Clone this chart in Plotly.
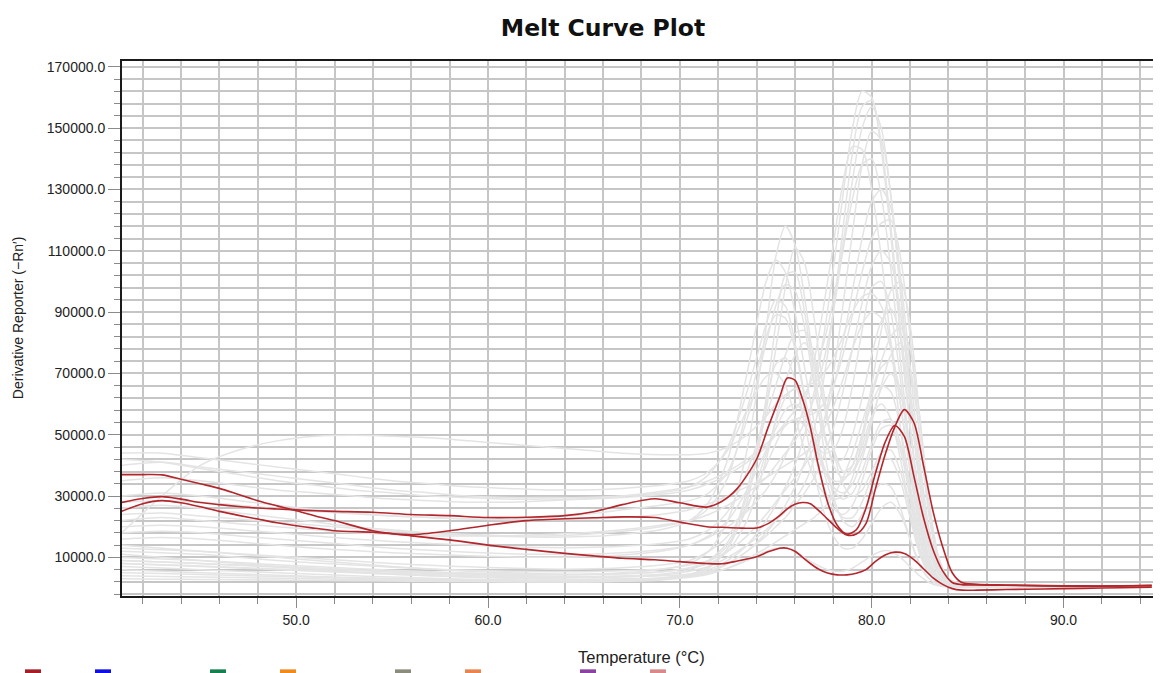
import plotly.graph_objects as go

# ---------------- data ----------------
temp_red = [40.9, 42, 43, 44, 45, 46, 47, 48, 49, 50, 51, 52, 54, 56, 58, 60, 62, 64, 65.5, 67,
            68.7, 70, 71.4, 72.2, 73, 74, 74.6, 75.2, 75.6, 76, 76.4, 76.8, 77.2, 77.7, 78.2, 78.7,
            79.2, 79.7, 80.2, 80.7, 81.2, 81.7, 82.2, 82.7, 83.2, 83.7, 84.2, 84.7, 85.5, 87, 89, 91, 93, 94.6]

red_a = [27900, 29200, 29800, 29000, 27900, 27200, 26600, 26100, 25800, 25500, 25200, 25000, 24700, 24000,
         23600, 23000, 23100, 23600, 24900, 27200, 29100, 27800, 26400, 28300, 32500, 42000, 52400, 62200,
         68500, 67800, 61500, 52500, 40500, 28000, 20500, 17600, 19000, 26000, 37500, 47500, 53000, 49500,
         36500, 23000, 12500, 5600, 1800, 1100, 1000, 900, 700, 600, 700, 800]

red_b = [25000, 27500, 28500, 27800, 26500, 25000, 23700, 22500, 21300, 20300, 19500, 18700, 18200, 17400,
         18700, 20500, 22000, 22600, 22900, 23200, 23000, 21500, 20000, 19800, 19600, 19600, 21000, 23600,
         25800, 27300, 27900, 27500, 25500, 22500, 19500, 17300, 17600, 21000, 32500, 43500, 52500, 58200,
         54000, 40000, 25000, 13500, 5000, 1800, 1200, 1000, 800, 700, 700, 900]

red_c = [37000, 37000, 36900, 35500, 34000, 32500, 30500, 28500, 26800, 25200, 23500, 22000, 18700, 17000,
         15700, 14000, 12600, 11300, 10500, 9700, 9200, 8600, 8000, 7900, 8800, 10200, 11800, 13000, 13000,
         12000, 10000, 8000, 6300, 4900, 4300, 4300, 4800, 6000, 8700, 10800, 11700, 11300, 9300, 6300, 3300,
         1200, -200, -700, -700, -500, -300, -100, 100, 300]

temp_gray = [40.9, 43, 45, 47, 49, 51, 53, 55, 57, 59, 61, 63, 65, 67, 69, 70.5, 71.5, 72.5, 73.5, 74.5, 75,
             75.5, 76, 76.5, 77, 77.5, 78, 78.5, 79, 79.5, 80, 80.5, 81, 81.5, 82, 82.5, 83, 83.5, 84, 85, 87,
             90, 94.6]

gray_01 = [11000, 10000, 9000, 8000, 7000, 6000, 5200, 4500, 4000, 3500, 3200, 3000, 2900, 3000, 3300, 4500,
           6000, 9000, 14000, 22000, 27000, 33000, 40000, 50000, 64000, 82000, 104000, 128000, 150000, 162000,
           160000, 143000, 115000, 82000, 52000, 28000, 12000, 4500, 1800, 700, 400, 300, 600]
gray_02 = [42000, 41000, 39000, 37000, 35000, 33500, 32000, 31000, 30000, 29500, 29000, 29000, 29000, 29500,
           30500, 32000, 34000, 37000, 41000, 46000, 50000, 54000, 58000, 63000, 70000, 80000, 94000, 112000,
           133000, 150000, 157000, 150000, 128000, 96000, 62000, 34000, 15000, 5500, 2000, 800, 500, 400, 700]
gray_03 = [9000, 8500, 8000, 7500, 7000, 6500, 6000, 5500, 5000, 4700, 4500, 4400, 4500, 5000, 6000, 8000,
           12000, 22000, 45000, 85000, 108000, 118000, 112000, 95000, 72000, 52000, 40000, 36000, 38000, 46000,
           56000, 60000, 55000, 42000, 26000, 13000, 5500, 2000, 900, 500, 300, 300, 500]
gray_04 = [14000, 13000, 12000, 11000, 10000, 9000, 8000, 7000, 6200, 5500, 5000, 4600, 4400, 4600, 5200, 6500,
           9000, 15000, 30000, 58000, 78000, 98000, 111000, 106000, 88000, 64000, 45000, 34000, 30000, 32000,
           38000, 44000, 45000, 38000, 25000, 12000, 5000, 1800, 800, 400, 300, 300, 500]
gray_05 = [30000, 31000, 30000, 28500, 27000, 25500, 24500, 23500, 23000, 22500, 22500, 23000, 24000, 25500,
           27000, 28500, 31000, 38000, 55000, 80000, 92000, 99000, 97000, 85000, 66000, 50000, 42000, 42000,
           50000, 62000, 76000, 87000, 91000, 82000, 60000, 34000, 14000, 5000, 1800, 700, 400, 300, 600]
gray_06 = [26000, 27000, 26000, 24500, 23000, 21500, 20000, 19000, 18000, 17500, 17000, 17000, 17500, 18500,
           20000, 22000, 26000, 36000, 58000, 82000, 89000, 88000, 78000, 62000, 45000, 33000, 26000, 24000,
           27000, 35000, 45000, 52000, 53000, 45000, 30000, 15000, 6000, 2200, 900, 500, 400, 400, 600]
gray_07 = [8000, 7500, 7000, 6500, 6000, 5500, 5000, 4500, 4000, 3700, 3500, 3400, 3400, 3600, 4200, 5500,
           7000, 10000, 14000, 19000, 22000, 25000, 29000, 34000, 42000, 54000, 70000, 92000, 116000, 138000,
           149000, 146000, 128000, 98000, 66000, 38000, 17000, 6500, 2200, 800, 400, 300, 500]
gray_08 = [22000, 23000, 22000, 21000, 20000, 19000, 18000, 17500, 17000, 17000, 17000, 17500, 18000, 19000,
           20500, 22000, 24000, 27000, 31000, 36000, 40000, 44000, 48000, 54000, 62000, 74000, 90000, 110000,
           127000, 138000, 140000, 128000, 104000, 74000, 45000, 23000, 9000, 3200, 1200, 500, 300, 300, 500]
gray_09 = [12000, 11500, 11000, 10000, 9000, 8200, 7500, 6800, 6200, 5800, 5500, 5300, 5300, 5600, 6200, 7500,
           9000, 12000, 17000, 24000, 28000, 32000, 36000, 40000, 46000, 54000, 65000, 80000, 97000, 114000,
           126000, 130000, 124000, 102000, 72000, 42000, 19000, 7000, 2400, 800, 400, 300, 500]
gray_10 = [35000, 36000, 35000, 33500, 32000, 31000, 30000, 29000, 28500, 28000, 28000, 28500, 29000, 30000,
           31500, 33000, 35000, 38000, 42000, 47000, 50000, 53000, 55000, 56000, 57000, 60000, 66000, 76000,
           89000, 103000, 114000, 119000, 120000, 108000, 82000, 50000, 23000, 8500, 3000, 1000, 500, 400, 600]
gray_11 = [10000, 9500, 9000, 8300, 7600, 7000, 6400, 5800, 5300, 4900, 4600, 4400, 4400, 4700, 5300, 6500,
           8000, 12000, 22000, 42000, 55000, 67000, 76000, 80000, 74000, 60000, 46000, 38000, 40000, 50000,
           66000, 84000, 97000, 100000, 86000, 56000, 26000, 9000, 3000, 1000, 500, 300, 500]
gray_12 = [44000, 44000, 42500, 41000, 39500, 38000, 36500, 35000, 34000, 33000, 32500, 32000, 32000, 32500,
           33500, 35000, 38000, 45000, 58000, 69000, 70000, 66000, 56000, 45000, 36000, 31000, 29000, 30000,
           36000, 48000, 62000, 72000, 74000, 64000, 44000, 23000, 9000, 3200, 1200, 500, 400, 300, 500]
gray_13 = [7000, 6500, 6000, 5500, 5000, 4500, 4000, 3600, 3200, 2900, 2700, 2600, 2600, 2800, 3300, 4500,
           7000, 13000, 28000, 62000, 86000, 102000, 103000, 90000, 68000, 46000, 30000, 22000, 20000, 24000,
           30000, 34000, 33000, 26000, 16000, 7500, 3000, 1200, 600, 300, 300, 300, 400]
gray_14 = [6000, 5500, 5000, 4600, 4200, 3800, 3400, 3100, 2800, 2600, 2400, 2300, 2300, 2500, 3000, 4000,
           5500, 8000, 12000, 17000, 20000, 23000, 27000, 31000, 36000, 43000, 52000, 64000, 78000, 93000,
           105000, 110000, 106000, 90000, 64000, 38000, 17000, 6000, 2000, 700, 400, 300, 500]
gray_15 = [16000, 16500, 16000, 15000, 14000, 13000, 12200, 11500, 11000, 10500, 10200, 10000, 10200, 10800,
           12000, 14000, 17000, 22000, 32000, 45000, 52000, 58000, 60000, 57000, 48000, 39000, 33000, 31000,
           34000, 42000, 54000, 66000, 76000, 80000, 72000, 50000, 25000, 9000, 3000, 1000, 500, 400, 600]
gray_16 = [18000, 30000, 40000, 45000, 48000, 49500, 49800, 49500, 49000, 48000, 47000, 46000, 45000, 44000,
           43500, 43500, 44000, 46000, 50000, 56000, 60000, 63000, 65000, 66000, 67000, 70000, 75000, 82000,
           90000, 95000, 96000, 92000, 80000, 60000, 38000, 19000, 7500, 2600, 1000, 500, 400, 300, 600]
gray_17 = [9000, 8500, 8000, 7400, 6800, 6200, 5700, 5200, 4800, 4400, 4100, 3900, 3800, 3800, 4000, 4500,
           5000, 6500, 9000, 12000, 13000, 13000, 12000, 10000, 8000, 6500, 5500, 5500, 6500, 8500, 10500,
           12000, 12000, 10000, 7000, 4000, 1800, 700, 300, 200, 200, 200, 300]
gray_18 = [40000, 41000, 39500, 38000, 36500, 35000, 33500, 32000, 31000, 30000, 29500, 29500, 29500, 30000,
           31000, 33000, 37000, 46000, 64000, 86000, 94000, 92000, 80000, 63000, 48000, 39000, 35000, 35000,
           40000, 50000, 60000, 66000, 64000, 52000, 34000, 17000, 7000, 2500, 1000, 500, 400, 300, 500]
gray_19 = [5000, 4700, 4400, 4100, 3800, 3500, 3200, 2900, 2700, 2500, 2300, 2200, 2200, 2400, 2800, 3800,
           5000, 8000, 12000, 18000, 22000, 27000, 33000, 41000, 52000, 68000, 90000, 117000, 142000, 157000,
           159000, 145000, 118000, 85000, 54000, 29000, 12000, 4500, 1600, 600, 300, 300, 400]
gray_20 = [20000, 20500, 20000, 19000, 18000, 17000, 16000, 15200, 14500, 14000, 13500, 13200, 13200, 13600,
           14500, 16000, 19000, 25000, 38000, 56000, 66000, 76000, 83000, 84000, 76000, 61000, 46000, 38000,
           38000, 44000, 55000, 65000, 70000, 64000, 46000, 25000, 10000, 3500, 1200, 500, 400, 300, 500]
gray_21 = [28000, 28500, 28000, 27000, 26000, 25000, 24200, 23500, 23000, 22500, 22300, 22300, 22500, 23000,
           24000, 25500, 27500, 30000, 33000, 36000, 38000, 40000, 42000, 44000, 47000, 52000, 59000, 68000,
           78000, 86000, 90000, 88000, 78000, 60000, 40000, 21000, 8500, 3000, 1100, 500, 300, 300, 500]
gray_22 = [4000, 3800, 3600, 3400, 3200, 3000, 2800, 2600, 2400, 2300, 2200, 2100, 2100, 2300, 2800, 4000,
           6500, 13000, 32000, 60000, 73000, 75000, 68000, 54000, 38000, 25000, 17000, 13000, 13000, 16000,
           21000, 26000, 28000, 24000, 16000, 8000, 3000, 1100, 500, 300, 200, 200, 400]
gray_23 = [8000, 7600, 7200, 6700, 6200, 5700, 5200, 4800, 4400, 4100, 3800, 3600, 3600, 3900, 4500, 6000,
           8500, 14000, 26000, 44000, 54000, 62000, 65000, 61000, 50000, 38000, 28000, 23000, 23000, 28000,
           36000, 42000, 42000, 35000, 23000, 11000, 4500, 1600, 700, 400, 300, 300, 400]
gray_24 = [18000, 18500, 18000, 17000, 16000, 15000, 14000, 13000, 12300, 11700, 11200, 11000, 11000, 11500,
           12500, 14000, 16500, 20000, 25000, 32000, 37000, 43000, 50000, 60000, 74000, 92000, 112000, 132000,
           144000, 143000, 130000, 108000, 80000, 52000, 29000, 13000, 5000, 1800, 800, 400, 300, 300, 500]
gray_25 = [24000, 24500, 23500, 22500, 21500, 20500, 19500, 18500, 17800, 17200, 16800, 16600, 16800, 17500,
           19000, 22000, 28000, 42000, 70000, 100000, 107000, 103000, 90000, 72000, 54000, 40000, 32000, 29000,
           31000, 38000, 47000, 54000, 55000, 47000, 32000, 16000, 6500, 2300, 900, 500, 400, 300, 500]
gray_26 = [13000, 12500, 12000, 11200, 10400, 9600, 8800, 8000, 7400, 6900, 6500, 6200, 6200, 6600, 7500, 9000,
           12000, 17000, 27000, 40000, 47000, 53000, 55000, 53000, 48000, 44000, 45000, 52000, 66000, 84000,
           98000, 100000, 90000, 68000, 42000, 21000, 8500, 3000, 1100, 500, 300, 300, 500]
gray_27 = [3000, 2900, 2800, 2700, 2600, 2500, 2400, 2300, 2200, 2100, 2000, 2000, 2000, 2200, 2600, 3500,
           4500, 6500, 9500, 13000, 15000, 17000, 19000, 21000, 23000, 26000, 30000, 36000, 44000, 54000, 64000,
           74000, 82000, 85000, 78000, 56000, 28000, 10000, 3200, 900, 400, 300, 400]

gray_series = [gray_01, gray_02, gray_03, gray_04, gray_05, gray_06, gray_07, gray_08, gray_09, gray_10, gray_11,
               gray_12, gray_13, gray_14, gray_15, gray_16, gray_17, gray_18, gray_19, gray_20, gray_21, gray_22,
               gray_23, gray_24, gray_25, gray_26, gray_27]
red_series = [red_a, red_b, red_c]

x_tick_values = [50, 60, 70, 80, 90]
x_tick_labels = ["50.0", "60.0", "70.0", "80.0", "90.0"]
y_tick_values = [10000, 30000, 50000, 70000, 90000, 110000, 130000, 150000, 170000]
y_tick_labels = ["10000.0", "30000.0", "50000.0", "70000.0", "90000.0", "110000.0", "130000.0",
                 "150000.0", "170000.0"]

legend_colors = ["#A3202A", "#1010E0", "#178050", "#EE8A1E", "#8C8C7C", "#E8844E", "#8A44A0", "#D88A8A"]

# ---------------- figure ----------------
# The page adds an 8 px body margin, so the figure is sized 8 px smaller to land on the same pixels.
W, H = 1153, 665
PLOT_L, PLOT_T, PLOT_B = 114, 53, 587.7   # in figure pixels
PLOT_W = W - 1 - PLOT_L
PLOT_H = PLOT_B - PLOT_T

GRAY = "#E4E4E4"
RED = "#B3262C"

fig = go.Figure()
for ys in gray_series:
    fig.add_trace(go.Scatter(x=temp_gray, y=ys, mode="lines",
                             line=dict(color=GRAY, width=1.5, shape="spline", smoothing=0.8),
                             hoverinfo="skip", showlegend=False))
for ys in red_series:
    fig.add_trace(go.Scatter(x=temp_red, y=ys, mode="lines",
                             line=dict(color=RED, width=1.6, shape="spline", smoothing=0.8),
                             showlegend=False))

GRID = "#C6C6C6"
TICKC = "#8A8A8A"
AXIS = "#1A1A1A"
tickfont = dict(family="Liberation Sans, Arial, sans-serif", size=14, color="#222222")

fig.update_xaxes(range=[40.92, 95.03], tickmode="array", tickvals=x_tick_values, ticktext=x_tick_labels,
                 ticks="outside", ticklen=10, tickcolor=TICKC, tickwidth=1,
                 showgrid=True, gridcolor=GRID, gridwidth=1.5,
                 minor=dict(tick0=0, dtick=2, ticks="outside", ticklen=6, tickcolor=TICKC,
                            showgrid=True, gridcolor=GRID, gridwidth=1.5),
                 showline=True, linecolor=AXIS, linewidth=2, mirror=True,
                 zeroline=False, tickfont=tickfont, automargin=False)
fig.update_yaxes(range=[-2600, 171900], tickmode="array", tickvals=y_tick_values, ticktext=y_tick_labels,
                 ticks="outside", ticklen=12, tickcolor=TICKC, tickwidth=1,
                 showgrid=True, gridcolor=GRID, gridwidth=1.5,
                 minor=dict(tick0=2000, dtick=4000, ticks="outside", ticklen=6, tickcolor=TICKC,
                            showgrid=True, gridcolor=GRID, gridwidth=1.5),
                 showline=True, linecolor=AXIS, linewidth=2, mirror=True,
                 zeroline=False, tickfont=tickfont, automargin=False)


def px_x(page_x):
    return (page_x - 8 - PLOT_L) / PLOT_W


def px_y(page_y):
    return (PLOT_B - (page_y - 8)) / PLOT_H


annotations = [
    dict(text="Temperature (°C)", xref="paper", yref="paper", x=px_x(641), y=px_y(657),
         xanchor="center", yanchor="middle", showarrow=False,
         font=dict(family="Liberation Sans, Arial, sans-serif", size=16.5, color="#222222")),
    dict(text="Derivative Reporter (−Rn′)", xref="paper", yref="paper", x=px_x(18), y=px_y(318),
         xanchor="center", yanchor="middle", showarrow=False, textangle=-90,
         font=dict(family="Liberation Sans, Arial, sans-serif", size=14, color="#222222")),
]

shapes = []
for i, c in enumerate(legend_colors):
    cx = 33 + 185 * (i // 2) + 70 * (i % 2)
    shapes.append(dict(type="rect", xref="paper", yref="paper",
                       x0=px_x(cx - 8), x1=px_x(cx + 8), y0=px_y(676), y1=px_y(669),
                       fillcolor=c, line=dict(width=0), layer="above"))

fig.update_layout(
    width=W, height=H,
    margin=dict(l=PLOT_L, r=1, t=PLOT_T, b=H - PLOT_B),
    paper_bgcolor="white", plot_bgcolor="white",
    title=dict(text="Melt Curve Plot", x=(603 - 8) / W, xanchor="center", xref="container",
               y=1 - (28 - 8) / H, yanchor="middle", yref="container",
               font=dict(family="DejaVu Sans, Verdana, sans-serif", size=23.5, color="#111111", weight="bold")),
    annotations=annotations, shapes=shapes,
    showlegend=False,
)

fig.write_html("out.html")
